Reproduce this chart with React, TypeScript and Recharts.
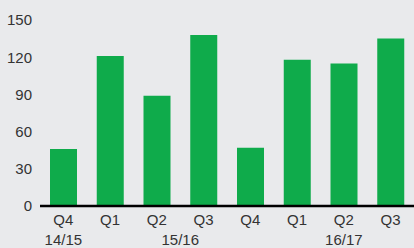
import { Bar, BarChart, XAxis, YAxis } from "recharts";

const quarters = ["Q4", "Q1", "Q2", "Q3", "Q4", "Q1", "Q2", "Q3"];
const years = ["14/15", "15/16", "15/16", "15/16", "15/16", "16/17", "16/17", "16/17"];
const values = [46, 121, 89, 138, 47, 118, 115, 135];
const yTicks = [0, 30, 60, 90, 120, 150];

const WIDTH = 414;
const HEIGHT = 248;
const Y_AXIS_WIDTH = 40;
const BAND = (WIDTH - Y_AXIS_WIDTH) / quarters.length;

const TEXT = "#333333";
const FONT = "'Liberation Sans', Arial, sans-serif";

const chartData = quarters.map((q, i) => ({
  key: `${q}-${i}`,
  quarter: q,
  year: years[i],
  value: values[i],
}));

// year label drawn once per group, centred under its quarters
function YearTick(props: any) {
  const { x, y, index } = props;
  const year = years[index];
  if (index > 0 && years[index - 1] === year) return null;
  const size = years.filter((v) => v === year).length;
  return (
    <text
      x={x + ((size - 1) / 2) * BAND}
      y={y}
      dy="0.71em"
      textAnchor="middle"
      fill={TEXT}
      fontSize={15}
      fontFamily={FONT}
    >
      {year}
    </text>
  );
}

export default function App() {
  return (
    <div
      style={{
        position: "absolute",
        left: 0,
        top: 0,
        width: WIDTH,
        height: HEIGHT,
        background: "#e9eaec",
      }}
    >
      <BarChart
        width={WIDTH}
        height={HEIGHT}
        data={chartData}
        margin={{ top: 20, right: 0, bottom: 0, left: 0 }}
      >
        <YAxis
          domain={[0, 150]}
          ticks={yTicks}
          width={Y_AXIS_WIDTH}
          axisLine={false}
          tickLine={false}
          tick={{ fill: TEXT, fontSize: 15, fontFamily: FONT }}
        />
        <XAxis
          dataKey="key"
          height={20}
          tickLine={false}
          axisLine={{ stroke: "#000", strokeWidth: 2.5 }}
          tickFormatter={(_, i) => quarters[i]}
          interval={0}
          tick={{ fill: TEXT, fontSize: 15, fontFamily: FONT }}
        />
        <XAxis
          xAxisId="year"
          dataKey="key"
          height={22}
          axisLine={false}
          tickLine={false}
          interval={0}
          tick={<YearTick />}
        />
        <Bar
          dataKey="value"
          fill="#0fab4b"
          barSize={27}
          isAnimationActive={false}
        />
      </BarChart>
    </div>
  );
}
